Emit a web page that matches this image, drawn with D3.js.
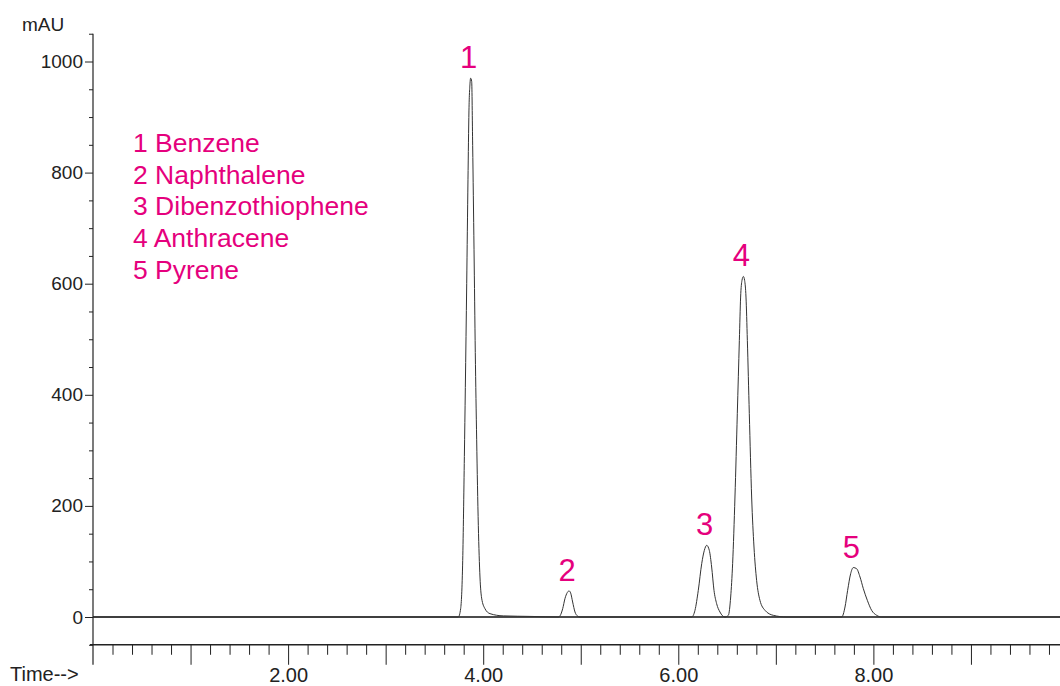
<!DOCTYPE html>
<html><head><meta charset="utf-8">
<script src="https://cdn.jsdelivr.net/npm/d3@7"></script>
<style>body{margin:0;background:#fff}svg{display:block;font-family:"Liberation Sans",Arial,sans-serif}</style>
</head><body><svg id="c" width="1060" height="686"></svg>
<script>
// Chromatogram trace: retention time (min) and signal (mAU)
const traceTime = [0, 3.40, 3.745, 3.769, 3.790, 3.807, 3.817, 3.831, 3.844, 3.854, 3.865, 3.871, 3.882, 3.892, 3.906, 3.919, 3.933, 3.950, 3.967, 3.984, 4.018, 4.070, 4.206, 4.50,
  4.770, 4.787, 4.815, 4.838, 4.862, 4.880, 4.897, 4.917, 4.941, 4.965, 4.992, 5.80,
  6.137, 6.171, 6.205, 6.240, 6.267, 6.291, 6.318, 6.342, 6.366, 6.393, 6.427, 6.479,
  6.513, 6.537, 6.557, 6.581, 6.605, 6.626, 6.639, 6.653, 6.667, 6.680, 6.694, 6.708, 6.728, 6.752, 6.776, 6.803, 6.837, 6.889, 6.974, 7.111, 7.35,
  7.675, 7.709, 7.736, 7.767, 7.794, 7.828, 7.863, 7.897, 7.938, 7.982, 8.034, 8.085, 9.913];
const traceSignal = [0, 0, 0, 15, 102, 289, 413, 600, 787, 911, 961, 970, 964, 849, 662, 476, 320, 165, 72, 34, 15, 6, 2, 1,
  0, 2, 15, 33, 44, 47, 43, 27, 9, 2, 0, 0,
  0, 12, 48, 96, 120, 129, 120, 90, 48, 24, 9, 0,
  3, 36, 96, 216, 366, 498, 576, 606, 613, 606, 576, 498, 366, 216, 126, 66, 30, 12, 3, 0, 0,
  0, 18, 48, 78, 89, 87, 72, 51, 30, 12, 3, 0, 0];

const peakNumbers = ["1", "2", "3", "4", "5"];
const peakTimes = [3.871, 4.880, 6.291, 6.667, 7.794];
const peakHeights = [970, 47, 129, 613, 89];
const compounds = ["Benzene", "Naphthalene", "Dibenzothiophene", "Anthracene", "Pyrene"];

const yMajorTicks = [0, 200, 400, 600, 800, 1000];
const yMinorTicks = [-50, 50, 100, 150, 250, 300, 350, 450, 500, 550, 650, 700, 750, 850, 900, 950, 1050];
const xMajorTicks = [1, 2, 3, 4, 5, 6, 7, 8, 9];
const xTickLabels = {2: "2.00", 4: "4.00", 6: "6.00", 8: "8.00"};
const yTitle = "mAU";
const xTitle = "Time-->";

const pink = "#e5007d";
const ink = "#222";

const svg = d3.select("#c");
const x = d3.scaleLinear().domain([0, 9.913]).range([93, 1060]);
const y = d3.scaleLinear().domain([0, 1000]).range([617, 61.5]);

const xMinorTicks = d3.range(1, 50).map(i => +(i * 0.2).toFixed(1)).filter(v => v <= 9.9 && Math.abs(v - Math.round(v)) > 1e-6);

// Y axis
const gy = svg.append("g").attr("transform", `translate(${x(0)},0)`);
gy.call(d3.axisLeft(y).tickValues(yMajorTicks).tickSize(8).tickPadding(2).tickFormat(d3.format("d")));
gy.call(g => g.select(".domain").remove());
const gy2 = svg.append("g").attr("transform", `translate(${x(0)},0)`);
gy2.call(d3.axisLeft(y).tickValues(yMinorTicks).tickSize(4).tickFormat(""));
gy2.call(g => g.select(".domain").remove());
svg.append("line").attr("x1", x(0)).attr("x2", x(0)).attr("y1", y(1050)).attr("y2", y(-86))
  .attr("stroke", ink).attr("stroke-width", 1.2);

// X axis at -50 mAU
const gx = svg.append("g").attr("transform", `translate(0,${y(-50)})`);
gx.call(d3.axisBottom(x).tickValues(xMajorTicks).tickSize(20).tickPadding(3).tickFormat(d => xTickLabels[d] || ""));
gx.call(g => g.select(".domain").remove());
const gx2 = svg.append("g").attr("transform", `translate(0,${y(-50)})`);
gx2.call(d3.axisBottom(x).tickValues(xMinorTicks).tickSize(10).tickFormat(""));
gx2.call(g => g.select(".domain").remove());
svg.append("line").attr("x1", x(0) - 3).attr("x2", x(9.913)).attr("y1", y(-50)).attr("y2", y(-50))
  .attr("stroke", ink).attr("stroke-width", 1.5);

svg.selectAll(".tick line").attr("stroke", ink).attr("stroke-width", 1);
svg.selectAll(".tick text").attr("fill", ink).attr("font-family", "Liberation Sans, Arial, sans-serif");
gy.selectAll(".tick text").attr("font-size", 19);
gx.selectAll(".tick text").attr("font-size", 20);

// titles
svg.append("text").attr("x", 22).attr("y", 31).attr("font-size", 19).attr("fill", ink).text(yTitle);
svg.append("text").attr("x", 10).attr("y", 681).attr("font-size", 20).attr("fill", ink).text(xTitle);

// zero line
svg.append("line").attr("x1", x(0)).attr("x2", x(9.913)).attr("y1", y(0)).attr("y2", y(0))
  .attr("stroke", "#111").attr("stroke-width", 1.5);

// trace
const pts = traceTime.map((t, i) => [t, traceSignal[i]]);
svg.append("path").datum(pts)
  .attr("d", d3.line().x(d => x(d[0])).y(d => y(d[1])).curve(d3.curveMonotoneX))
  .attr("fill", "none").attr("stroke", "#333").attr("stroke-width", 1);

// peak labels
svg.selectAll(".pl").data(peakNumbers).join("text")
  .attr("x", (d, i) => x(peakTimes[i]) - 2)
  .attr("y", (d, i) => y(peakHeights[i]) - 10)
  .attr("text-anchor", "middle").attr("font-size", 31).attr("fill", pink).text(d => d);

// legend
svg.selectAll(".lg").data(compounds).join("text")
  .attr("x", 133).attr("y", (d, i) => 152 + i * 31.7)
  .attr("font-size", 26.5).attr("fill", pink).text((d, i) => peakNumbers[i] + " " + d);
</script></body></html>
